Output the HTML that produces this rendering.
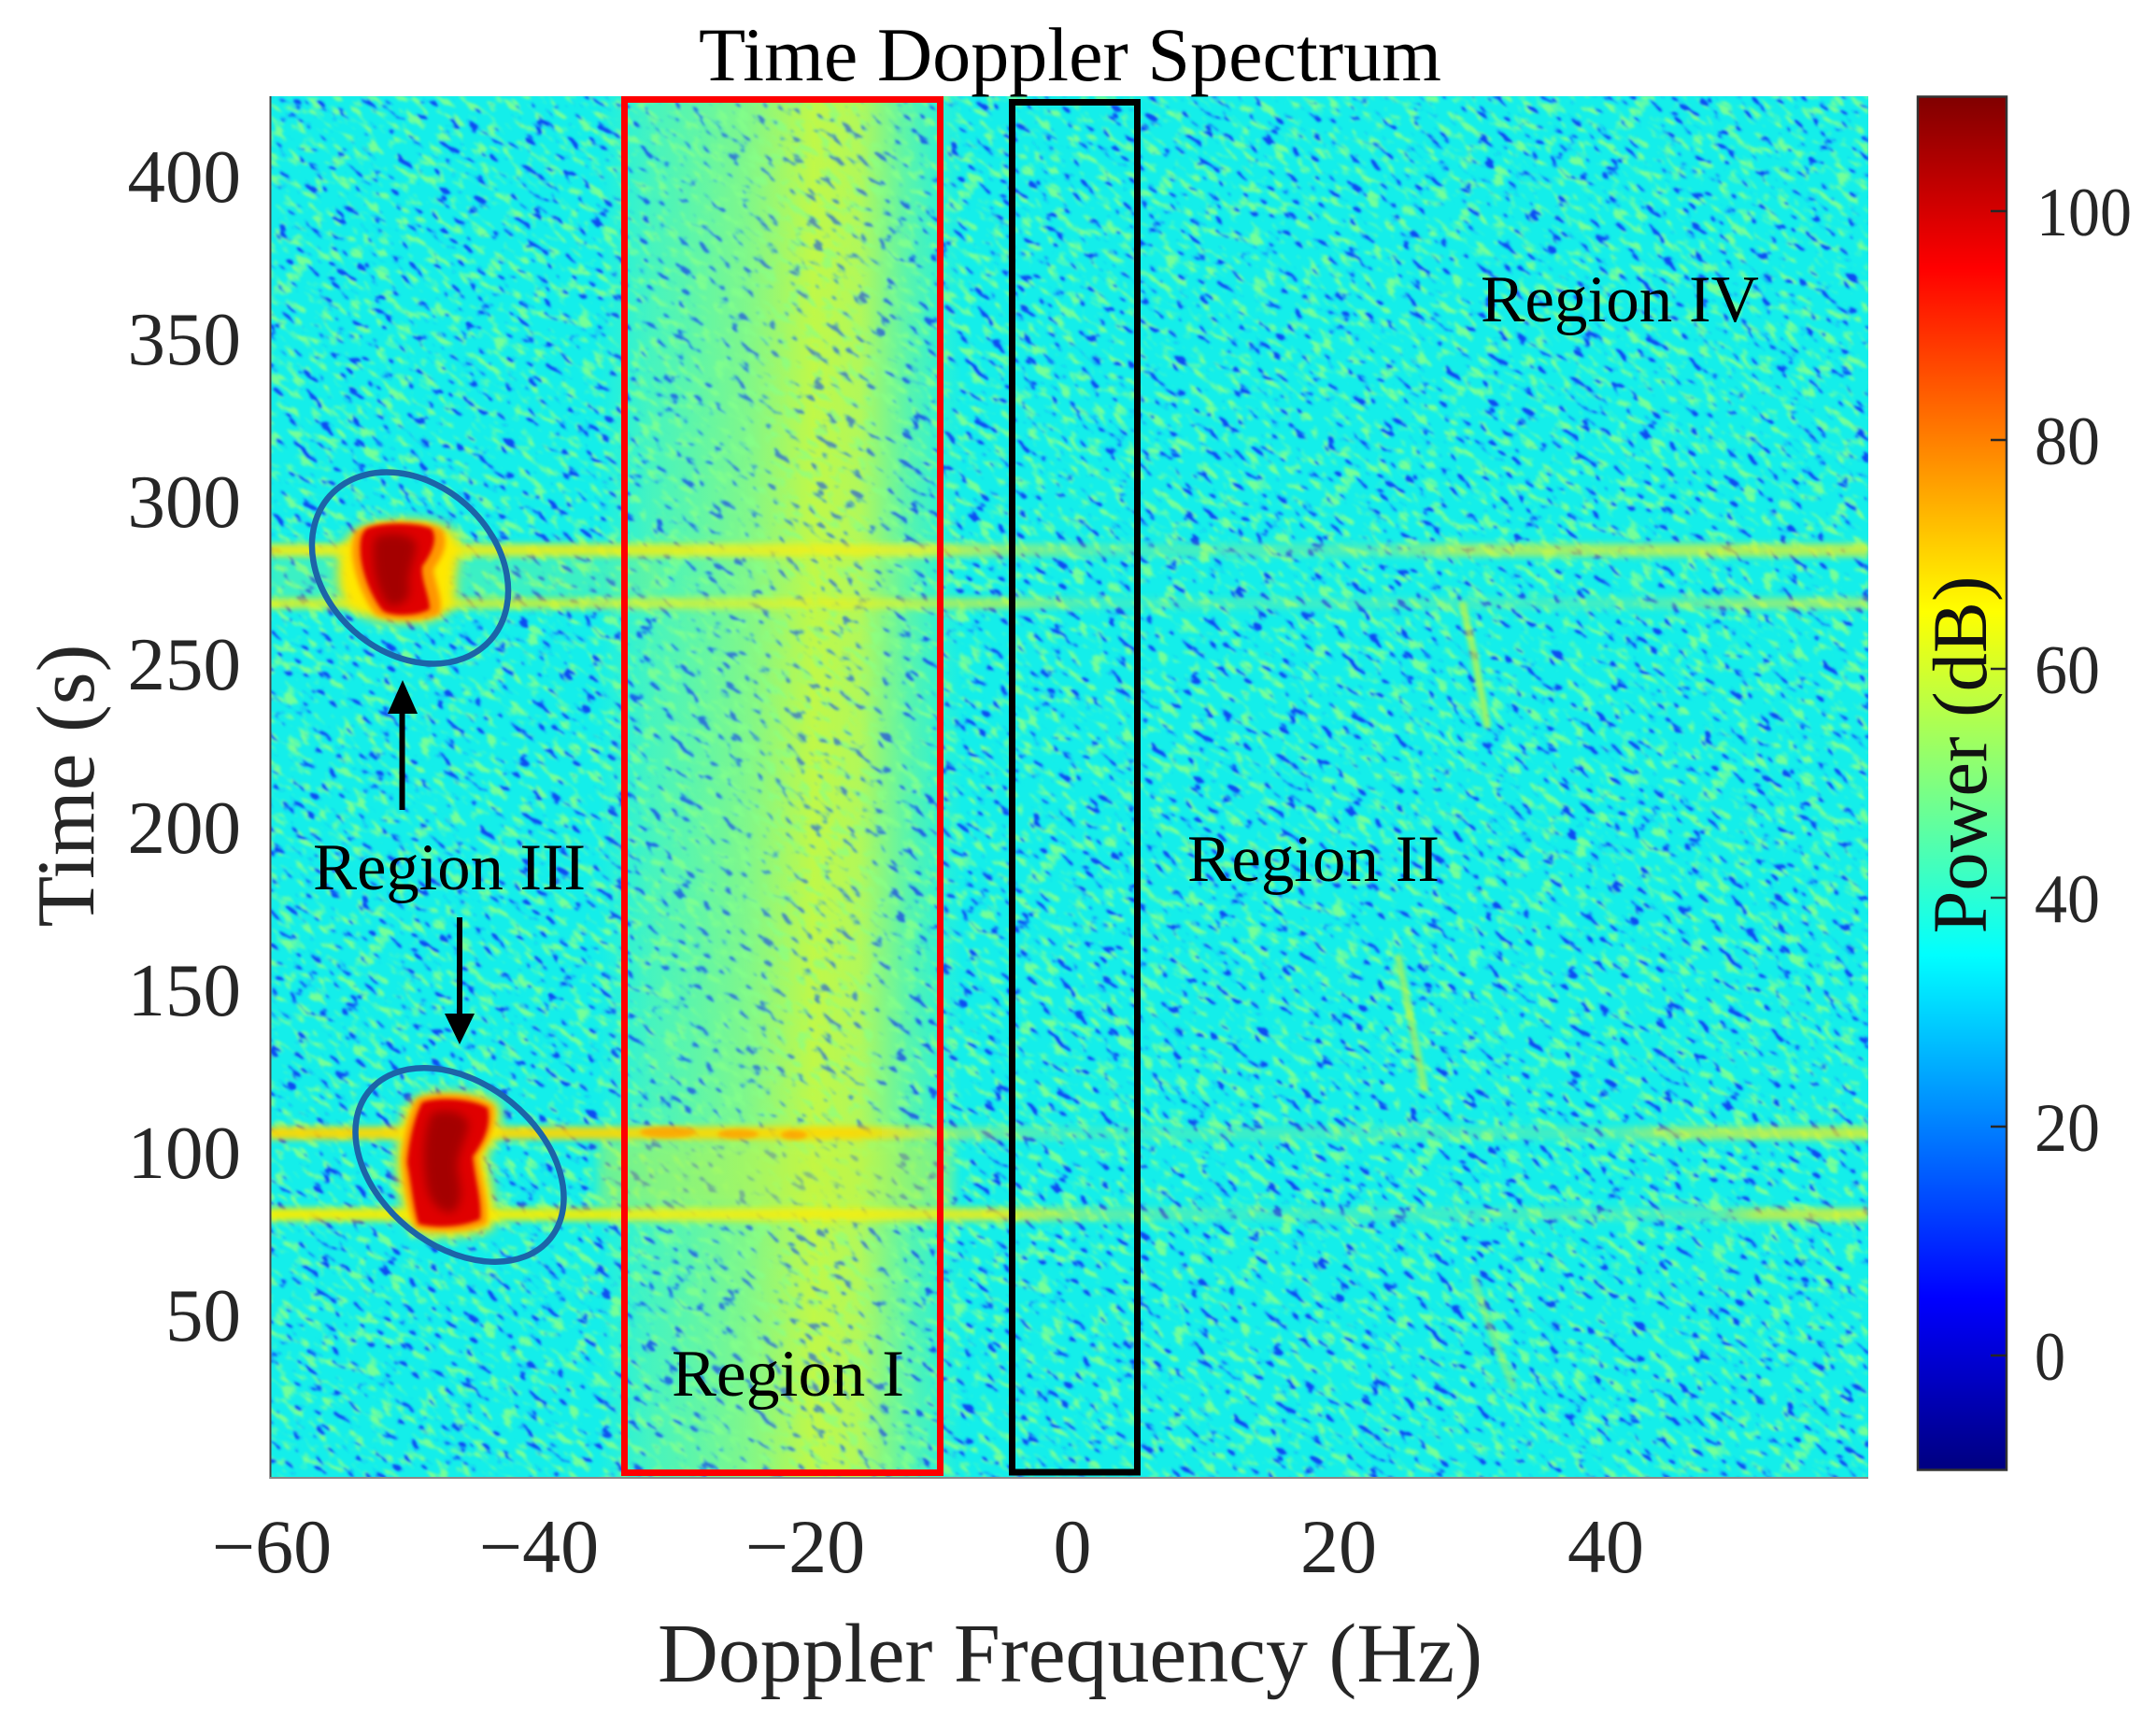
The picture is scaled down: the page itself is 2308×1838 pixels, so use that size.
<!DOCTYPE html>
<html><head><meta charset="utf-8"><style>html,body{margin:0;padding:0;background:#fff;width:2308px;height:1838px;overflow:hidden}svg{display:block}</style></head>
<body>
<svg width="2308" height="1838" viewBox="0 0 2308 1838" xmlns="http://www.w3.org/2000/svg" font-family="'Liberation Serif', serif">
<defs>
  <clipPath id="pc"><rect x="289" y="103" width="1711" height="1479"/></clipPath>
  <filter id="spk" filterUnits="userSpaceOnUse" x="0" y="0" width="512" height="512" color-interpolation-filters="sRGB">
    <feTurbulence type="fractalNoise" baseFrequency="0.055 0.12" numOctaves="2" seed="11" stitchTiles="stitch" result="n"/>
    <feColorMatrix in="n" type="matrix" values="0 0 0 0 0.45  0 0 0 0 1  0 0 0 0 0.6  0 -5 0 0 2.4" result="g"/>
    <feColorMatrix in="n" type="matrix" values="0 0 0 0 0.1  0 0 0 0 0.65  0 0 0 0 1  7 0 0 0 -4.2" result="a"/>
    <feColorMatrix in="n" type="matrix" values="0 0 0 0 0.05  0 0 0 0 0.3  0 0 0 0 0.95  12 0 0 0 -8.0" result="b"/>
    <feMerge><feMergeNode in="g"/><feMergeNode in="a"/><feMergeNode in="b"/></feMerge>
  </filter>
  <pattern id="noise" patternUnits="userSpaceOnUse" x="0" y="0" width="512" height="512" patternTransform="rotate(38)">
    <rect x="0" y="0" width="512" height="512" fill="#000" filter="url(#spk)"/>
  </pattern>
  <filter id="b1" x="-2%" y="-2%" width="104%" height="104%"><feGaussianBlur stdDeviation="1"/></filter>
  <filter id="b2" x="-20%" y="-20%" width="140%" height="140%"><feGaussianBlur stdDeviation="2"/></filter>
  <filter id="b3" x="-30%" y="-30%" width="160%" height="160%"><feGaussianBlur stdDeviation="3"/></filter>
  <filter id="b5" x="-40%" y="-40%" width="180%" height="180%"><feGaussianBlur stdDeviation="5"/></filter>
  <filter id="b6" x="-30%" y="-30%" width="160%" height="160%"><feGaussianBlur stdDeviation="6"/></filter>
  <filter id="lb" x="-5%" y="-300%" width="110%" height="700%"><feGaussianBlur stdDeviation="2 3.5"/></filter>
  <linearGradient id="band" gradientUnits="userSpaceOnUse" x1="640" y1="0" x2="1030" y2="0">
    <stop offset="0" stop-color="rgb(120,250,150)" stop-opacity="0"/>
    <stop offset="0.15" stop-color="rgb(130,250,140)" stop-opacity="0.35"/>
    <stop offset="0.41" stop-color="rgb(170,250,100)" stop-opacity="0.6"/>
    <stop offset="0.59" stop-color="rgb(215,250,50)" stop-opacity="0.8"/>
    <stop offset="0.72" stop-color="rgb(215,250,55)" stop-opacity="0.7"/>
    <stop offset="0.85" stop-color="rgb(170,250,100)" stop-opacity="0.35"/>
    <stop offset="1" stop-color="rgb(150,250,120)" stop-opacity="0"/>
  </linearGradient>
  <linearGradient id="lA" gradientUnits="userSpaceOnUse" x1="289" y1="0" x2="2000" y2="0">
    <stop offset="0" stop-color="#f4ee10" stop-opacity="0.9"/>
    <stop offset="0.217" stop-color="#f4ee10" stop-opacity="0.85"/>
    <stop offset="0.416" stop-color="#f0f020" stop-opacity="0.8"/>
    <stop offset="0.462" stop-color="#e0f030" stop-opacity="0.55"/>
    <stop offset="0.532" stop-color="#c8f050" stop-opacity="0.25"/>
    <stop offset="0.696" stop-color="#c8f050" stop-opacity="0.3"/>
    <stop offset="0.743" stop-color="#e0f030" stop-opacity="0.65"/>
    <stop offset="1" stop-color="#e8f020" stop-opacity="0.75"/>
  </linearGradient>
  <linearGradient id="lB" gradientUnits="userSpaceOnUse" x1="289" y1="0" x2="2000" y2="0">
    <stop offset="0" stop-color="#f0f010" stop-opacity="0.8"/>
    <stop offset="0.46" stop-color="#e8f020" stop-opacity="0.6"/>
    <stop offset="0.52" stop-color="#c8f050" stop-opacity="0.2"/>
    <stop offset="0.85" stop-color="#c8f050" stop-opacity="0.25"/>
    <stop offset="0.93" stop-color="#e0f030" stop-opacity="0.55"/>
    <stop offset="1" stop-color="#e0f030" stop-opacity="0.6"/>
  </linearGradient>
  <linearGradient id="lC" gradientUnits="userSpaceOnUse" x1="289" y1="0" x2="2000" y2="0">
    <stop offset="0" stop-color="#ffd800" stop-opacity="0.95"/>
    <stop offset="0.37" stop-color="#ffd800" stop-opacity="0.9"/>
    <stop offset="0.42" stop-color="#f0f020" stop-opacity="0.5"/>
    <stop offset="0.5" stop-color="#c8f050" stop-opacity="0.2"/>
    <stop offset="0.84" stop-color="#c8f050" stop-opacity="0.25"/>
    <stop offset="0.87" stop-color="#e0f030" stop-opacity="0.6"/>
    <stop offset="1" stop-color="#e8f020" stop-opacity="0.8"/>
  </linearGradient>
  <linearGradient id="lD" gradientUnits="userSpaceOnUse" x1="289" y1="0" x2="2000" y2="0">
    <stop offset="0" stop-color="#f8ee00" stop-opacity="0.95"/>
    <stop offset="0.46" stop-color="#f4ee10" stop-opacity="0.85"/>
    <stop offset="0.52" stop-color="#e0f030" stop-opacity="0.35"/>
    <stop offset="0.6" stop-color="#c8f050" stop-opacity="0.2"/>
    <stop offset="0.9" stop-color="#c8f050" stop-opacity="0.25"/>
    <stop offset="0.93" stop-color="#e8f020" stop-opacity="0.7"/>
    <stop offset="1" stop-color="#e8f020" stop-opacity="0.8"/>
  </linearGradient>
  <linearGradient id="jet" x1="0" y1="0" x2="0" y2="1">
    <stop offset="0" stop-color="#800000"/>
    <stop offset="0.125" stop-color="#ff0000"/>
    <stop offset="0.375" stop-color="#ffff00"/>
    <stop offset="0.625" stop-color="#00ffff"/>
    <stop offset="0.875" stop-color="#0000ff"/>
    <stop offset="1" stop-color="#000080"/>
  </linearGradient>
</defs>

<!-- Spectrogram -->
<g clip-path="url(#pc)">
  <rect x="289" y="103" width="1711" height="1479" fill="#14eeea"/>
  <rect x="640" y="103" width="390" height="1479" fill="url(#band)"/>
  <rect x="289" y="103" width="1711" height="1479" fill="url(#noise)" filter="url(#b1)"/>
  <rect x="640" y="103" width="390" height="1479" fill="url(#band)" opacity="0.5"/>
  <!-- soft fill between lines -->
  <rect x="289" y="596" width="420" height="44" fill="rgb(150,245,110)" opacity="0.3" filter="url(#b6)"/>
  <rect x="640" y="1222" width="380" height="70" fill="rgb(200,245,60)" opacity="0.45" filter="url(#b6)"/>
  <!-- horizontal lines -->
  <rect x="289" y="582" width="1711" height="14" fill="url(#lA)" filter="url(#lb)"/>
  <rect x="289" y="640" width="1711" height="12" fill="url(#lB)" filter="url(#lb)"/>
  <rect x="289" y="1206" width="1711" height="14" fill="url(#lC)" filter="url(#lb)"/>
  <rect x="289" y="1293" width="1711" height="14" fill="url(#lD)" filter="url(#lb)"/>
  <g fill="#ff9d00" opacity="0.75" filter="url(#b2)">
    <ellipse cx="715" cy="1212" rx="30" ry="6"/>
    <ellipse cx="790" cy="1214" rx="22" ry="5"/>
    <ellipse cx="850" cy="1215" rx="14" ry="5"/>
  </g>
  <!-- f=0 line -->
  <line x1="1148" y1="106" x2="1148" y2="1578" stroke="rgb(170,240,90)" stroke-width="7" opacity="0.45" stroke-dasharray="50 20 80 30 35 25" filter="url(#b2)"/>
  <!-- diagonal streaks -->
  <g fill="none" stroke="rgb(195,245,60)" stroke-width="8" stroke-linecap="round" filter="url(#b2)">
    <path d="M1566,648 L1578,700 L1592,776" opacity="0.75"/>
    <path d="M1497,1025 L1510,1090 L1525,1165" opacity="0.65"/>
    <path d="M1578,1370 L1598,1430 L1620,1485" opacity="0.45"/>
  </g>
  <!-- upper blob -->
  <path d="M372,575 C385,552 470,550 488,570 C500,590 485,610 488,630 C492,655 470,668 430,667 C395,666 365,655 362,625 C360,600 362,588 372,575 Z" fill="#ffe800" filter="url(#b6)"/>
  <path d="M382,568 C400,555 462,555 474,568 C482,585 470,600 464,610 C466,625 476,645 470,658 C450,666 415,665 402,658 C388,640 378,612 377,592 C377,580 378,573 382,568 Z" fill="#ff9600" filter="url(#b3)"/>
  <path d="M392,566 C410,558 450,560 462,566 C470,578 460,596 452,606 C450,620 460,638 460,652 C446,660 420,660 410,654 C398,640 388,615 386,595 C385,580 386,572 392,566 Z" fill="#e00000" filter="url(#b2)"/>
  <path d="M402,575 C420,568 440,572 446,582 C444,600 436,612 438,628 C440,642 430,650 416,648 C406,636 400,615 400,598 C399,588 400,580 402,575 Z" fill="#8c0000" opacity="0.7" filter="url(#b5)"/>
  <!-- lower blob -->
  <path d="M440,1178 C460,1164 520,1166 534,1182 C540,1205 528,1225 520,1240 C526,1265 534,1292 528,1315 C505,1326 460,1326 440,1318 C430,1295 424,1265 424,1240 C426,1210 430,1190 440,1178 Z" fill="#ffe800" filter="url(#b6)"/>
  <path d="M446,1176 C466,1168 512,1170 528,1184 C532,1205 522,1224 512,1238 C515,1262 524,1288 521,1310 C500,1320 462,1320 444,1314 C436,1292 432,1265 430,1242 C432,1215 438,1192 446,1176 Z" fill="#ff9600" filter="url(#b3)"/>
  <path d="M452,1180 C470,1174 505,1176 522,1186 C526,1205 518,1222 506,1238 C508,1260 516,1285 514,1305 C495,1314 465,1315 448,1310 C442,1290 440,1265 436,1245 C438,1220 444,1195 452,1180 Z" fill="#e00000" filter="url(#b2)"/>
  <path d="M462,1192 C478,1186 498,1190 502,1204 C498,1222 488,1236 490,1254 C494,1272 496,1290 484,1298 C468,1298 458,1284 456,1264 C452,1240 454,1210 462,1192 Z" fill="#8c0000" opacity="0.7" filter="url(#b5)"/>
</g>

<!-- axes lines -->
<line x1="289.5" y1="103" x2="289.5" y2="1583" stroke="#444" stroke-width="2"/>
<line x1="289" y1="1582" x2="2000" y2="1582" stroke="#888" stroke-width="2"/>

<!-- annotation boxes -->
<rect x="668.5" y="106.5" width="338" height="1470" fill="none" stroke="#ff0000" stroke-width="7"/>
<rect x="1083.5" y="109.5" width="134" height="1466.5" fill="none" stroke="#000" stroke-width="7"/>

<!-- ellipses -->
<ellipse cx="439" cy="608" rx="115.5" ry="90.5" transform="rotate(42 439 608)" fill="none" stroke="#1c64a8" stroke-width="6.5"/>
<ellipse cx="492" cy="1247" rx="125" ry="87" transform="rotate(39 492 1247)" fill="none" stroke="#1c64a8" stroke-width="6.5"/>

<!-- arrows -->
<rect x="427.5" y="760" width="6" height="107" fill="#000"/>
<polygon points="431,728 415,764 447,764" fill="#000"/>
<rect x="489" y="982" width="6" height="106" fill="#000"/>
<polygon points="476,1085 508,1085 492,1118" fill="#000"/>

<!-- region labels -->
<g font-size="71" fill="#000">
  <text x="335" y="952" textLength="292" lengthAdjust="spacingAndGlyphs">Region III</text>
  <text x="1271" y="943" textLength="270" lengthAdjust="spacingAndGlyphs">Region II</text>
  <text x="1585" y="344" textLength="298" lengthAdjust="spacingAndGlyphs">Region IV</text>
  <text x="719" y="1494" textLength="249" lengthAdjust="spacingAndGlyphs">Region I</text>
</g>

<!-- title -->
<text x="748" y="86" font-size="82" fill="#000" textLength="795" lengthAdjust="spacingAndGlyphs">Time Doppler Spectrum</text>

<!-- y ticks -->
<g font-size="81" fill="#262626" text-anchor="end">
  <text x="258" y="216">400</text>
  <text x="258" y="390">350</text>
  <text x="258" y="564">300</text>
  <text x="258" y="738">250</text>
  <text x="258" y="913">200</text>
  <text x="258" y="1087">150</text>
  <text x="258" y="1261">100</text>
  <text x="258" y="1435">50</text>
</g>
<!-- x ticks -->
<g font-size="82" fill="#262626" text-anchor="middle">
  <text x="291" y="1683">−60</text>
  <text x="577" y="1683">−40</text>
  <text x="862" y="1683">−20</text>
  <text x="1148" y="1683">0</text>
  <text x="1433" y="1683">20</text>
  <text x="1719" y="1683">40</text>
</g>

<!-- axis labels -->
<text x="704" y="1800" font-size="90" fill="#262626" textLength="883" lengthAdjust="spacingAndGlyphs">Doppler Frequency (Hz)</text>
<text transform="translate(100,841) rotate(-90)" x="-151.5" y="0" font-size="88" fill="#262626" textLength="303" lengthAdjust="spacingAndGlyphs">Time (s)</text>

<!-- colorbar -->
<rect x="2053" y="103.5" width="95" height="1470" fill="url(#jet)"/>
<rect x="2053" y="103.5" width="95" height="1470" fill="none" stroke="#333" stroke-width="2.5"/>
<g stroke="#262626" stroke-width="2.5">
  <line x1="2131" y1="226" x2="2148" y2="226"/>
  <line x1="2131" y1="471" x2="2148" y2="471"/>
  <line x1="2131" y1="716" x2="2148" y2="716"/>
  <line x1="2131" y1="961" x2="2148" y2="961"/>
  <line x1="2131" y1="1206" x2="2148" y2="1206"/>
  <line x1="2131" y1="1451" x2="2148" y2="1451"/>
</g>
<g font-size="74" fill="#262626">
  <text x="2180" y="252" textLength="102" lengthAdjust="spacingAndGlyphs">100</text>
  <text x="2178" y="497" textLength="70" lengthAdjust="spacingAndGlyphs">80</text>
  <text x="2178" y="742" textLength="70" lengthAdjust="spacingAndGlyphs">60</text>
  <text x="2178" y="987" textLength="70" lengthAdjust="spacingAndGlyphs">40</text>
  <text x="2178" y="1232" textLength="70" lengthAdjust="spacingAndGlyphs">20</text>
  <text x="2178" y="1477" textLength="33" lengthAdjust="spacingAndGlyphs">0</text>
</g>
<text transform="translate(2126,808) rotate(-90)" x="-191.5" y="0" font-size="83" fill="#111" textLength="383" lengthAdjust="spacingAndGlyphs">Power (dB)</text>
</svg>
</body></html>
